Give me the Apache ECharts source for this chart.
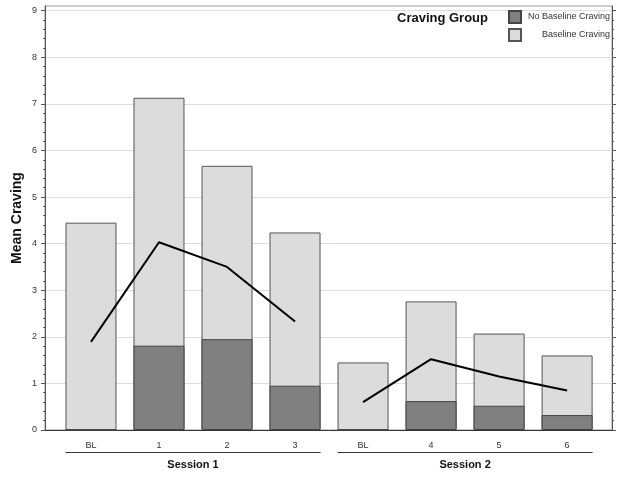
<!DOCTYPE html>
<html><head><meta charset="utf-8">
<script src="https://cdn.jsdelivr.net/npm/echarts@6/dist/echarts.min.js"></script>
<style>html,body{margin:0;padding:0;background:#fff}#c{width:623px;height:477px}</style>
</head><body><div id="c"></div>
<script>
var categories = ['BL', '1', '2', '3', 'BL', '4', '5', '6'];
var baselineCraving = [4.45, 7.13, 5.67, 4.24, 1.45, 2.76, 2.07, 1.60];
var noBaselineCraving = [0, 1.81, 1.95, 0.95, 0, 0.62, 0.52, 0.32];
var overallSession1 = [1.89, 4.03, 3.50, 2.33];
var overallSession2 = [0.60, 1.52, 1.15, 0.85];
var sessions = ['Session 1', 'Session 2'];
var sessionIdx = [[0, 1, 2, 3], [4, 5, 6, 7]];
var yTicks = [0, 1, 2, 3, 4, 5, 6, 7, 8, 9];

var FONT = 'Liberation Sans, Arial, sans-serif';
var chart = echarts.init(document.getElementById('c'), null, {renderer: 'canvas'});
function pts(arr, idx) { return arr.map(function (v, i) { return [idx[i], v]; }); }
var xIdx = categories.map(function (c, i) { return i; });

var option = {
  animation: false,
  backgroundColor: '#fff',
  textStyle: {fontFamily: FONT},
  grid: {left: 45, right: 11, top: 6, bottom: 47, show: true, borderColor: '#999', borderWidth: 1,
    backgroundColor: 'transparent', containLabel: false, outerBoundsMode: 'none'},
  legend: {
    orient: 'vertical', left: 508, top: 10, padding: 0, itemWidth: 12, itemHeight: 12, itemGap: 4,
    icon: 'rect',
    data: ['No Baseline Craving', 'Baseline Craving'],
    formatter: function (n) { return '{a|' + n + '}'; },
    textStyle: {rich: {a: {width: 84, align: 'right', fontSize: 9, color: '#333', fontFamily: FONT}}}
  },
  xAxis: {
    type: 'value', min: -0.676, max: 7.66,
    axisLine: {show: true, onZero: false, lineStyle: {color: '#333'}},
    axisTick: {show: false},
    splitLine: {show: false},
    axisLabel: {customValues: xIdx, margin: 11, fontSize: 9, color: '#333', fontFamily: FONT,
      formatter: function (v) { return categories[Math.round(v)]; }}
  },
  yAxis: [{
    type: 'value', min: 0, max: 9.1, interval: 1,
    name: 'Mean Craving', nameLocation: 'middle', nameGap: 21, nameMoveOverlap: false,
    nameTextStyle: {fontSize: 14, fontWeight: 'bold', color: '#111', fontFamily: FONT},
    axisLine: {show: true, onZero: false, lineStyle: {color: '#555'}},
    axisTick: {show: true, length: 4, lineStyle: {color: '#555'}, customValues: yTicks},
    minorTick: {show: true, splitNumber: 5, length: 2, lineStyle: {color: '#555'}},
    splitLine: {show: true, lineStyle: {color: '#dedede'}},
    axisLabel: {customValues: yTicks, fontSize: 9, color: '#333', margin: 8, fontFamily: FONT}
  }, {
    type: 'value', min: 0, max: 9.1, interval: 1, position: 'right',
    axisLine: {show: true, onZero: false, lineStyle: {color: '#555'}},
    axisTick: {show: true, length: 4, lineStyle: {color: '#555'}, customValues: yTicks},
    minorTick: {show: true, splitNumber: 5, length: 2, lineStyle: {color: '#555'}},
    splitLine: {show: false},
    axisLabel: {show: false}
  }],
  series: [
    {name: 'Baseline Craving', type: 'bar', barWidth: 51, barGap: '-100%',
      itemStyle: {color: '#dcdcdc', borderColor: '#555', borderWidth: 1},
      data: pts(baselineCraving, xIdx), z: 2},
    {name: 'No Baseline Craving', type: 'bar', barWidth: 51, barGap: '-100%',
      itemStyle: {color: '#808080', borderColor: '#444', borderWidth: 1},
      data: pts(noBaselineCraving, xIdx), z: 3},
    {name: 'Overall1', type: 'line', showSymbol: false, symbol: 'none', z: 5,
      lineStyle: {color: '#000', width: 2}, data: pts(overallSession1, sessionIdx[0])},
    {name: 'Overall2', type: 'line', showSymbol: false, symbol: 'none', z: 5,
      lineStyle: {color: '#000', width: 2}, data: pts(overallSession2, sessionIdx[1])}
  ]
};
chart.setOption(option);

var half = 51 / 2;
var g = [{type: 'text', left: 397, top: 12, style: {text: 'Craving Group', font: 'bold 13px ' + FONT, fill: '#111'}}];
sessions.forEach(function (s, k) {
  var idx = sessionIdx[k];
  var x0 = chart.convertToPixel({xAxisIndex: 0}, idx[0]) - half;
  var x1 = chart.convertToPixel({xAxisIndex: 0}, idx[idx.length - 1]) + half;
  g.push({type: 'line', shape: {x1: x0, y1: 452.5, x2: x1, y2: 452.5}, style: {stroke: '#333', lineWidth: 1}});
  g.push({type: 'text', x: (x0 + x1) / 2, y: 465, style: {text: s, font: 'bold 11px ' + FONT, fill: '#111', align: 'center', verticalAlign: 'middle'}});
});
chart.setOption({graphic: g});
</script></body></html>
